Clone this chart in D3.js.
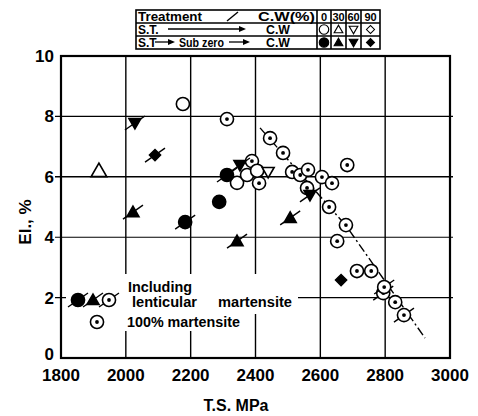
<!DOCTYPE html>
<html>
<head>
<meta charset="utf-8">
<script src="https://cdn.jsdelivr.net/npm/d3@7"></script>
<style>
  body { margin: 0; background: #fff; }
  text { font-family: "Liberation Sans", Arial, sans-serif; font-weight: bold; fill: #000; }
</style>
</head>
<body>
<div id="chart-area"></div>
<script>
// ---- data (T.S. in MPa, El. in %) ----
let xTicks = [1800, 2000, 2200, 2400, 2600, 2800, 3000]
let yTicks = [0, 2, 4, 6, 8, 10]
let cwLabels = ['0', '30', '60', '90']

// S.T. -> C.W  (open symbols): [ts, el]
let openCircle = [[2176, 8.41], [2343, 5.80], [2374, 6.06], [2405, 6.20]]
let openTriangle = [[1917, 6.19]]
let openInvTriangle = [[2439, 6.16]]

// S.T. -> Sub zero -> C.W (filled symbols): [ts, el, lenticular]
let filledCircle = [[2183, 4.50, 1], [2288, 5.17, 0], [2312, 6.06, 1]]
let filledTriangle = [[2022, 4.83, 1], [2343, 3.87, 1], [2507, 4.64, 1]]
let filledInvTriangle = [[2028, 7.78, 1], [2352, 6.39, 1], [2568, 5.40, 1]]
let filledDiamond = [[2090, 6.72, 1], [2664, 2.58, 0]]

// 100% martensite: [ts, el, lenticular]
let fullMartensite = [
  [2312, 7.91, 0], [2445, 7.28, 0], [2389, 6.52, 0], [2411, 5.79, 0],
  [2485, 6.79, 0], [2513, 6.16, 0], [2538, 6.06, 0], [2562, 6.23, 0],
  [2605, 5.99, 0], [2636, 5.79, 0], [2683, 6.39, 0], [2559, 5.63, 0],
  [2627, 5.00, 0], [2679, 4.40, 0], [2652, 3.87, 0], [2713, 2.88, 0],
  [2757, 2.88, 0], [2794, 2.15, 1], [2797, 2.35, 1], [2831, 1.85, 0],
  [2858, 1.42, 1]
]

// trend line (dash-dot)
let trendLine = [[2414, 7.62], [2680, 4.37], [2923, 0.66]]

// ---- svg ----
let svg = d3.select('#chart-area').append('svg')
  .attr('width', 478)
  .attr('height', 416)

let x = d3.scaleLinear().domain([1800, 3000]).range([61, 450])
let y = d3.scaleLinear().domain([0, 10]).range([358, 56])

// grid lines
let grid = svg.append('g').attr('stroke', '#000').attr('stroke-width', 1.4)
grid.selectAll('.vg').data(xTicks.slice(1, -1)).enter().append('line')
  .attr('x1', d => x(d)).attr('x2', d => x(d))
  .attr('y1', y(10)).attr('y2', y(0))
grid.selectAll('.hg').data(yTicks.slice(1, -1)).enter().append('line')
  .attr('x1', x(1800) - 6).attr('x2', x(3000) + 3)
  .attr('y1', d => y(d)).attr('y2', d => y(d))
  .attr('stroke-width', d => d == 4 ? 1.1 : 1.4)

// blank area behind the inner legend
svg.append('rect').attr('x', 66).attr('y', 274).attr('width', 232).attr('height', 40).attr('fill', '#fff')
svg.append('rect').attr('x', 66).attr('y', 314).attr('width', 180).attr('height', 17).attr('fill', '#fff')

// frame
svg.append('rect')
  .attr('x', x(1800)).attr('y', y(10))
  .attr('width', x(3000) - x(1800)).attr('height', y(0) - y(10))
  .attr('fill', 'none').attr('stroke', '#000').attr('stroke-width', 2.2)

// axes labels
svg.selectAll('.xt').data(xTicks).enter().append('text')
  .attr('x', d => x(d)).attr('y', 381)
  .attr('text-anchor', 'middle').style('font-size', '17px')
  .text(d => d)
svg.selectAll('.yt').data(yTicks).enter().append('text')
  .attr('x', 54).attr('y', d => y(d) + 6 - (d == 0 ? 4 : 0))
  .attr('text-anchor', 'end').style('font-size', '17px')
  .text(d => d)

svg.append('text')
  .attr('x', 236).attr('y', 411)
  .attr('text-anchor', 'middle').style('font-size', '16px')
  .text('T.S. MPa')
svg.append('text')
  .attr('transform', 'translate(31, 222) rotate(-90)')
  .attr('text-anchor', 'middle').style('font-size', '17px')
  .text('El., %')

// trend line
svg.append('path')
  .attr('d', d3.line().x(d => x(d[0])).y(d => y(d[1]))(trendLine))
  .attr('fill', 'none').attr('stroke', '#000').attr('stroke-width', 1.4)
  .attr('stroke-dasharray', '9,3,2,3')

// ---- markers ----
let circleSym = d3.symbol().type(d3.symbolCircle).size(135)
let triSym = d3.symbol().type(d3.symbolTriangle).size(62)
let diaSym = d3.symbol().type(d3.symbolSquare).size(64)

function lentTick(g) {
  g.append('line')
    .attr('x1', -10).attr('y1', 7).attr('x2', 10).attr('y2', -7)
    .attr('stroke', '#000').attr('stroke-width', 1.4)
}

function drawMarker(parent, px, py, kind, filled, lent) {
  let g = parent.append('g').attr('transform', 'translate(' + px + ',' + py + ')')
  if (lent) lentTick(g)
  let fill = filled ? '#000' : '#fff'
  if (kind == 'circle') {
    g.append('path').attr('d', circleSym()).attr('fill', fill).attr('stroke', '#000').attr('stroke-width', 1.6)
  } else if (kind == 'dot') {
    g.append('path').attr('d', circleSym()).attr('fill', '#fff').attr('stroke', '#000').attr('stroke-width', 1.6)
    g.append('circle').attr('r', 1.9).attr('fill', '#000')
  } else if (kind == 'tri') {
    g.append('path').attr('d', triSym()).attr('transform', 'translate(0,1)').attr('fill', fill).attr('stroke', '#000').attr('stroke-width', 1.6)
  } else if (kind == 'inv') {
    g.append('path').attr('d', triSym()).attr('transform', 'translate(0,-1) rotate(180)').attr('fill', fill).attr('stroke', '#000').attr('stroke-width', 1.6)
  } else if (kind == 'dia') {
    g.append('path').attr('d', diaSym()).attr('transform', 'rotate(45)').attr('fill', fill).attr('stroke', '#000').attr('stroke-width', 1.4)
  }
  return g
}

let marks = svg.append('g')
fullMartensite.forEach(d => drawMarker(marks, x(d[0]), y(d[1]), 'dot', false, d[2]))
openCircle.forEach(d => drawMarker(marks, x(d[0]), y(d[1]), 'circle', false, 0))
openTriangle.forEach(d => {
  let g = drawMarker(marks, x(d[0]), y(d[1]), 'tri', false, 0)
  g.select('path').attr('transform', 'translate(0,1) scale(1.3)').attr('stroke-width', 1.3)
})
openInvTriangle.forEach(d => drawMarker(marks, x(d[0]), y(d[1]), 'inv', false, 0))
filledCircle.forEach(d => drawMarker(marks, x(d[0]), y(d[1]), 'circle', true, d[2]))
filledTriangle.forEach(d => drawMarker(marks, x(d[0]), y(d[1]), 'tri', true, d[2]))
filledInvTriangle.forEach(d => drawMarker(marks, x(d[0]), y(d[1]), 'inv', true, d[2]))
filledDiamond.forEach(d => drawMarker(marks, x(d[0]), y(d[1]), 'dia', true, d[2]))

// ---- inner legend ----
let leg = svg.append('g')
drawMarker(leg, 78, 300, 'circle', true, 1)
drawMarker(leg, 93, 300, 'tri', true, 1)
drawMarker(leg, 109, 300, 'dot', false, 1)
drawMarker(leg, 97, 322, 'dot', false, 0)
leg.append('text').attr('x', 128).attr('y', 292).style('font-size', '14px')
  .attr('textLength', 64).attr('lengthAdjust', 'spacingAndGlyphs').text('Including')
leg.append('text').attr('x', 132).attr('y', 307).style('font-size', '14px')
  .attr('textLength', 65).attr('lengthAdjust', 'spacingAndGlyphs').text('lenticular')
leg.append('text').attr('x', 218).attr('y', 307).style('font-size', '14px')
  .attr('textLength', 74).attr('lengthAdjust', 'spacingAndGlyphs').text('martensite')
leg.append('text').attr('x', 127).attr('y', 327).style('font-size', '14px')
  .attr('textLength', 113).attr('lengthAdjust', 'spacingAndGlyphs').text('100% martensite')

// ---- treatment table ----
let tbl = svg.append('g')
let rowY = [10, 23, 36, 49]
let colX = [317, 331, 346, 361, 380]
tbl.append('rect').attr('x', 136).attr('y', rowY[0]).attr('width', 380 - 136).attr('height', rowY[3] - rowY[0])
  .attr('fill', 'none').attr('stroke', '#000').attr('stroke-width', 1.6)
tbl.selectAll('.rl').data(rowY.slice(1, 3)).enter().append('line')
  .attr('x1', 136).attr('x2', 380).attr('y1', d => d).attr('y2', d => d)
  .attr('stroke', '#000').attr('stroke-width', 1.6)
tbl.selectAll('.cl').data(colX.slice(0, 4)).enter().append('line')
  .attr('x1', d => d).attr('x2', d => d).attr('y1', rowY[0]).attr('y2', rowY[3])
  .attr('stroke', '#000').attr('stroke-width', 1.6)

tbl.append('text').attr('x', 138).attr('y', 21).style('font-size', '12px')
  .attr('textLength', 64).attr('lengthAdjust', 'spacingAndGlyphs').text('Treatment')
tbl.append('line').attr('x1', 227).attr('y1', 21).attr('x2', 238).attr('y2', 12)
  .attr('stroke', '#000').attr('stroke-width', 1.4)
tbl.append('text').attr('x', 258).attr('y', 21).style('font-size', '12px')
  .attr('textLength', 57).attr('lengthAdjust', 'spacingAndGlyphs').text('C.W(%)')
tbl.selectAll('.ch').data(cwLabels).enter().append('text')
  .attr('x', (d, i) => (colX[i] + colX[i + 1]) / 2).attr('y', 21)
  .attr('text-anchor', 'middle').style('font-size', '11px')
  .text(d => d)

function arrow(x1, x2, yy) {
  tbl.append('line').attr('x1', x1).attr('x2', x2 - 4).attr('y1', yy).attr('y2', yy)
    .attr('stroke', '#000').attr('stroke-width', 1.3)
  tbl.append('path').attr('d', 'M' + x2 + ',' + yy + 'L' + (x2 - 7) + ',' + (yy - 3) + 'L' + (x2 - 7) + ',' + (yy + 3) + 'Z')
    .attr('fill', '#000')
}

tbl.append('text').attr('x', 138).attr('y', 34).style('font-size', '12px').text('S.T.')
arrow(168, 246, 29)
tbl.append('text').attr('x', 266).attr('y', 34).style('font-size', '12px')
  .attr('textLength', 24).attr('lengthAdjust', 'spacingAndGlyphs').text('C.W')

tbl.append('text').attr('x', 138).attr('y', 47).style('font-size', '12px').text('S.T')
arrow(155, 175, 42)
tbl.append('text').attr('x', 179).attr('y', 47).style('font-size', '12px')
  .attr('textLength', 45).attr('lengthAdjust', 'spacingAndGlyphs').text('Sub zero')
arrow(229, 250, 42)
tbl.append('text').attr('x', 266).attr('y', 47).style('font-size', '12px')
  .attr('textLength', 24).attr('lengthAdjust', 'spacingAndGlyphs').text('C.W')

let kinds = ['circle', 'tri', 'inv', 'dia']
let small = tbl.append('g')
kinds.forEach((k, i) => {
  let cx = (colX[i] + colX[i + 1]) / 2
  let g1 = drawMarker(small, cx, 29.5, k, false, 0)
  let g2 = drawMarker(small, cx, 42.5, k, true, 0)
  g1.attr('transform', 'translate(' + cx + ',29.5) scale(0.72)')
  g2.attr('transform', 'translate(' + cx + ',42.5) scale(0.72)')
})
</script>
</body>
</html>
